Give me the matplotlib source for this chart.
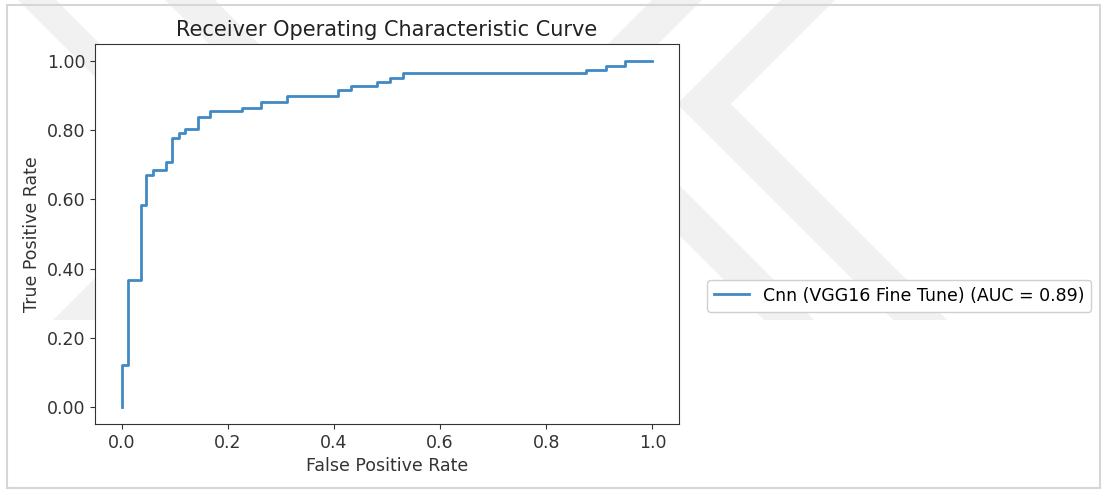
import numpy as np
import matplotlib.pyplot as plt
from matplotlib.patches import Polygon, Rectangle
from matplotlib.transforms import Affine2D
from matplotlib.ticker import FormatStrFormatter

# ROC corner points (false positive rate, true positive rate)
fpr = [0.0, 0.0, 0.012, 0.012, 0.037, 0.037, 0.047, 0.047, 0.059, 0.059,
       0.083, 0.083, 0.095, 0.095, 0.108, 0.108, 0.119, 0.119, 0.144, 0.144,
       0.167, 0.167, 0.226, 0.226, 0.262, 0.262, 0.311, 0.311, 0.408, 0.408,
       0.433, 0.433, 0.481, 0.481, 0.506, 0.506, 0.530, 0.530, 0.875, 0.875,
       0.913, 0.913, 0.949, 0.949, 1.0]
tpr = [0.0, 0.122, 0.122, 0.366, 0.366, 0.585, 0.585, 0.672, 0.672, 0.684,
       0.684, 0.708, 0.708, 0.779, 0.779, 0.793, 0.793, 0.805, 0.805, 0.840,
       0.840, 0.856, 0.856, 0.866, 0.866, 0.882, 0.882, 0.899, 0.899, 0.917,
       0.917, 0.927, 0.927, 0.941, 0.941, 0.951, 0.951, 0.966, 0.966, 0.975,
       0.975, 0.986, 0.986, 1.0, 1.0]
model_name = "Cnn (VGG16 Fine Tune)"

W, H = 1105, 491
fig = plt.figure(figsize=(W / 100, H / 100), dpi=100)
fig.patch.set_facecolor("white")

#   pixel coordinates (origin top left) -> figure
pix = Affine2D().scale(1 / W, -1 / H).translate(0, 1) + fig.transFigure

#   faint chevron watermark behind the axes
wm_color = "#f1f1f1"
t = 450
clip = Rectangle((0, 0), W, 320, transform=pix, visible=False)
fig.add_artist(clip)

def left_chevron(vx, vy, w):
    # "<" shape, outer vertex at (vx, vy)
    return [(vx, vy), (vx + t, vy - t), (vx + w + t, vy - t), (vx + w, vy),
            (vx + w + t, vy + t), (vx + t, vy + t)]

def right_chevron(vx, vy, w):
    # ">" shape, outer vertex at (vx, vy)
    return [(vx, vy), (vx - t, vy - t), (vx - w - t, vy - t), (vx - w, vy),
            (vx - w - t, vy + t), (vx - t, vy + t)]

shapes = [left_chevron(677, 104, 54), left_chevron(548, 104, 50),
          right_chevron(319, 104, 50),
          [(160, 104), (160 - t, 104 - t), (122 - t, 104 - t), (122, 104)]]
for pts in shapes:
    p = Polygon(pts, closed=True, transform=pix, facecolor=wm_color,
                edgecolor="none", zorder=-5)
    p.set_clip_path(clip)
    fig.add_artist(p)

#   thin grey frame round the whole picture
fig.add_artist(Rectangle((7, 5), W - 12, 483, transform=pix, fill=False,
                         edgecolor="#d6d6d6", linewidth=1.5, zorder=10))

ax = fig.add_axes([95 / W, 1 - 424 / H, 584 / W, 380 / H])
ax.set_facecolor("white")

roc_auc = np.trapezoid(tpr, fpr)
ax.plot(fpr, tpr, color="#4089c4", linewidth=2.0,
        label="%s (AUC = %0.2f)" % (model_name, roc_auc))

ax.set_title("Receiver Operating Characteristic Curve", fontsize=15,
             color="#222222", pad=6)
ax.set_xlabel("False Positive Rate", fontsize=12.5, color="#333333")
ax.set_ylabel("True Positive Rate", fontsize=12.5, color="#333333")
ax.set_yticks([0.0, 0.2, 0.4, 0.6, 0.8, 1.0])
ax.set_xticks([0.0, 0.2, 0.4, 0.6, 0.8, 1.0])
ax.yaxis.set_major_formatter(FormatStrFormatter("%.2f"))
ax.xaxis.set_major_formatter(FormatStrFormatter("%.1f"))
ax.tick_params(labelsize=12.5, colors="#333333")
for s in ax.spines.values():
    s.set_color("#333333")

leg = ax.legend(loc="center left", bbox_to_anchor=(1.048, 0.338),
                borderaxespad=0, fontsize=12.5, framealpha=1)
leg.get_frame().set_edgecolor("#d0d0d0")

fig.savefig("out.png", dpi=100)
